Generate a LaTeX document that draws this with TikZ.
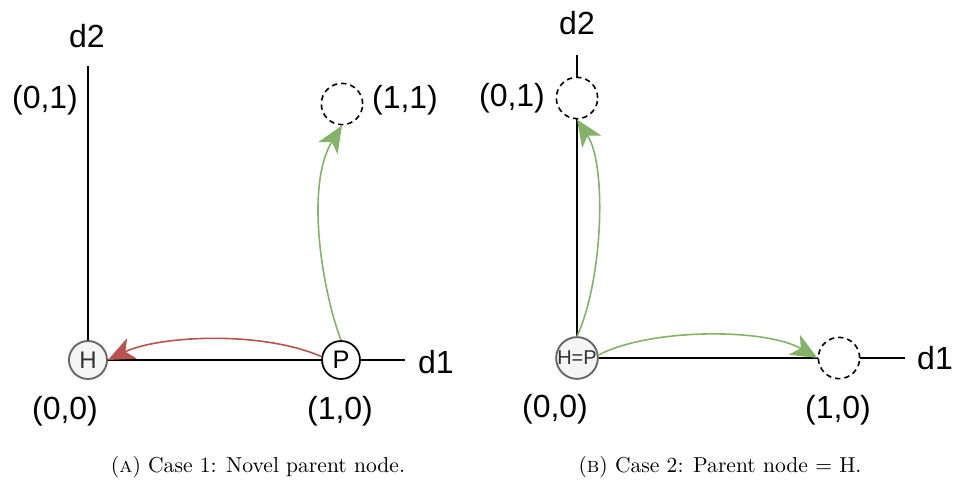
\documentclass[tikz,border=0pt]{standalone}
\usepackage{fontspec}
\newfontfamily\arialf{Liberation Sans}
\usetikzlibrary{arrows.meta}
\definecolor{dgreen}{HTML}{82B366}
\definecolor{dred}{HTML}{B85450}
\definecolor{gfill}{HTML}{F5F5F5}
\definecolor{gline}{HTML}{666666}
\begin{document}
\begin{tikzpicture}[x=0.75pt,y=-0.75pt,
  lbl/.style={font=\arialf\fontsize{24}{28}\selectfont, inner sep=0pt},
  hnode/.style={circle, draw=gline, fill=gfill, line width=1.4pt, minimum size=28.5pt, inner sep=0pt, text=black!80, font=\arialf\fontsize{18}{20}\selectfont},
  pnode/.style={circle, draw=black, line width=1.3pt, minimum size=28.5pt, inner sep=0pt, font=\arialf\fontsize{19}{21}\selectfont},
  ghost/.style={circle, draw=black, dashed, dash pattern=on 4pt off 3pt, line width=1.2pt, minimum size=31pt, inner sep=0pt},
  axis/.style={line width=1.4pt, black},
  garrow/.style={dgreen, line width=1.2pt, -{Stealth[length=20pt,width=17pt,inset=5.5pt]}},
  rarrow/.style={dred, line width=1.2pt, -{Stealth[length=20pt,width=17pt,inset=5.5pt]}},
  captext/.style={inner sep=0pt}
]
\useasboundingbox (0,0) rectangle (954,485);
% ---------- left (A) ----------
\node[hnode] (H) at (88,360) {H};
\node[pnode] (P) at (341,360) {P};
\node[ghost] (Q) at (342,104) {};
\coordinate (ytop) at (88,66);
\coordinate (xend) at (405,360);
\node[lbl] (d2a) at (87,36) {d2};
\node[lbl] (d1a) at (436,362) {d1};
\node[lbl] (l01a) at (45,100) {(0,1)};
\node[lbl] (l00a) at (65,411) {(0,0)};
\node[lbl] (l10a) at (340,411) {(1,0)};
\node[lbl] (l11a) at (405,100) {(1,1)};
\draw[axis] (H.north) -- (ytop);
\draw[axis] (H.east) -- (P.west);
\draw[axis] (P.east) -- (xend);
\draw[garrow] (P.north) .. controls (322,290) and (305,185) .. (Q.south);
\draw[rarrow] (P.170) .. controls (260,330) and (158,336) .. (H.east);
\node[captext] (capA) at (258,467) {\scalebox{1.62}{(\textsc{a}) Case 1: Novel parent node.}};
% ---------- right (B) ----------
\node[hnode, minimum size=31pt, font=\arialf\fontsize{15}{17}\selectfont] (HP) at (577,358) {H=P};
\node[ghost] (G1) at (577,98) {};
\node[ghost] (G2) at (839,358) {};
\coordinate (ytopb) at (577,55);
\coordinate (xendb) at (905,358);
\node[lbl] (d2b) at (577,23) {d2};
\node[lbl] (d1b) at (935,358) {d1};
\node[lbl] (l01b) at (512,98) {(0,1)};
\node[lbl] (l00b) at (555,409) {(0,0)};
\node[lbl] (l10b) at (838,410) {(1,0)};
\draw[axis] (G1.north) -- (ytopb);
\draw[axis] (HP.north) -- (G1.south);
\draw[axis] (HP.east) -- (G2.west);
\draw[axis] (G2.east) -- (xendb);
\draw[garrow] (HP.north) .. controls (603,280) and (607,165) .. (G1.south);
\draw[garrow] (HP.8) .. controls (650,328) and (765,328) .. (G2.west);
\node[captext] (capB) at (720,467) {\scalebox{1.62}{(\textsc{b}) Case 2: Parent node = H.}};
\end{tikzpicture}
\end{document}
